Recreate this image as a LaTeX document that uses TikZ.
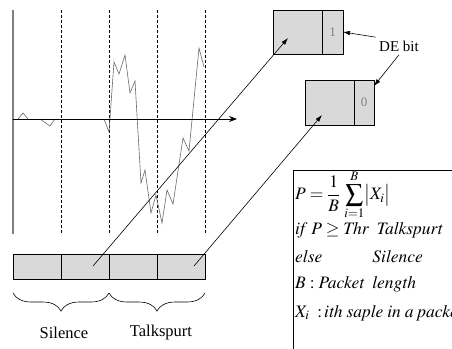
\documentclass[tikz,border=0pt]{standalone}
\usepackage{mathptmx}
\usepackage{fontspec}
\setmainfont{Liberation Serif}
\usepackage{tikz}
\usetikzlibrary{arrows.meta,positioning,calc,decorations.pathreplacing}
\definecolor{cellgray}{RGB}{217,217,217}
\definecolor{wavegray}{RGB}{105,105,105}

\begin{document}
\begin{tikzpicture}[x=1pt,y=-1pt,
    cell/.style={draw, fill=cellgray, line width=0.8pt, minimum width=48pt, minimum height=25pt, inner sep=0pt, outer sep=0pt},
    frame/.style={draw, fill=cellgray, line width=0.8pt, minimum height=44pt, inner sep=0pt, outer sep=0pt},
    tip/.style={-{Latex[length=7pt,width=4.5pt]}, line width=0.6pt},
    eqline/.style={anchor=west, inner sep=0pt, font=\fontsize{17.5}{21}\selectfont}]
    \useasboundingbox (0,0) rectangle (452,348);
    \clip (0,0) rectangle (452,348);
    % time axis and block limits
    \draw[gray, line width=1.2pt] (13,10) -- (13,234);
    \foreach \x in {61,109,157,205}
      \draw[dash pattern=on 3pt off 2pt, line width=0.6pt] (\x,10) -- (\x,233);
    % speech signal
    \draw[wavegray, line width=0.6pt] (18,119) -- (23,113) -- (28,119);
    \draw[wavegray, line width=0.6pt] (40,119) -- (50,126) -- (55,119);
    \draw[wavegray, line width=0.6pt] (104,119) -- (109,132) -- (114,62) -- (119,74) -- (125,55) -- (130,93) -- (135,81)
      -- (141,183) -- (145,170) -- (151,213) -- (156,195) -- (162,223) -- (167,190) -- (173,204)
      -- (183,138) -- (189,151) -- (199,48) -- (204,67);
    \coordinate (o) at (13,119);
    \coordinate (t) at (237,119);
    \draw[-{Stealth[length=8pt,width=6pt]}, line width=0.8pt] (o) -- (t);
    % packets
    \node[cell] (c1) at (37,266.5) {};
    \node[cell, right=0pt of c1] (c2) {};
    \node[cell, right=0pt of c2] (c3) {};
    \node[cell, right=0pt of c3] (c4) {};
    \draw[decorate, decoration={brace, mirror, amplitude=18pt}, line width=0.6pt] (13,293) -- (109,293);
    \draw[decorate, decoration={brace, mirror, amplitude=18pt}, line width=0.6pt] (109,293) -- (205,293);
    \node[font=\fontsize{16.5}{19}\selectfont] (sil) at (64,333) {Silence};
    \node[font=\fontsize{16.5}{19}\selectfont] (tsp) at (161,333) {Talkspurt};
    % marked packets
    \node[frame, minimum width=49pt, anchor=north west] (f1) at (273,10) {};
    \node[frame, minimum width=21pt, anchor=west, text=gray, font=\fontsize{13}{15}\selectfont] (b1) at (f1.east) {1};
    \node[frame, minimum width=49pt, minimum height=45pt, anchor=north west] (f2) at (305,80) {};
    \node[frame, minimum width=20pt, minimum height=45pt, anchor=west, text=gray, font=\fontsize{13}{15}\selectfont] (b2) at (f2.east) {0};
    \node[font=\fontsize{15}{18}\selectfont] (de) at (399,46) {DE bit};
    \draw[tip] (de.north west) -- (b1.east);
    \draw[tip] (de.south) -- ([yshift=-6pt]b2.north east);
    \coordinate (p2) at (93,266);
    \coordinate (q1) at (288,38);
    \coordinate (p4) at (194,266);
    \coordinate (q2) at (322,115);
    \draw[tip] (p2) -- (q1);
    \draw[tip] (p4) -- (q2);
    % decision rule
    \node[draw, line width=0.8pt, minimum width=180pt, minimum height=190pt, anchor=north west, inner sep=0pt] (eqbox) at (293,170) {};
    \node[eqline] (e1) at (295,195) {$\displaystyle P=\frac{1}{B}\,\sum_{i=1}^{B}\bigl|X_i\bigr|$};
    \node[eqline] (e2) at (295,230) {$\mathit{if}\; P\geq \mathit{Thr}\;\; \mathit{Talkspurt}$};
    \node[eqline] (e3) at (295,257) {$\mathit{else}\hspace{50pt}\mathit{Silence}$};
    \node[eqline] (e4) at (295,284) {$B: \mathit{Packet}\;\; \mathit{length}$};
    \node[eqline] (e5) at (295,313) {$X_i\;:\!\mathit{ith}\; \mathit{saple}\; \mathit{in}\; a\; \mathit{packet}$};
\end{tikzpicture}
\end{document}
